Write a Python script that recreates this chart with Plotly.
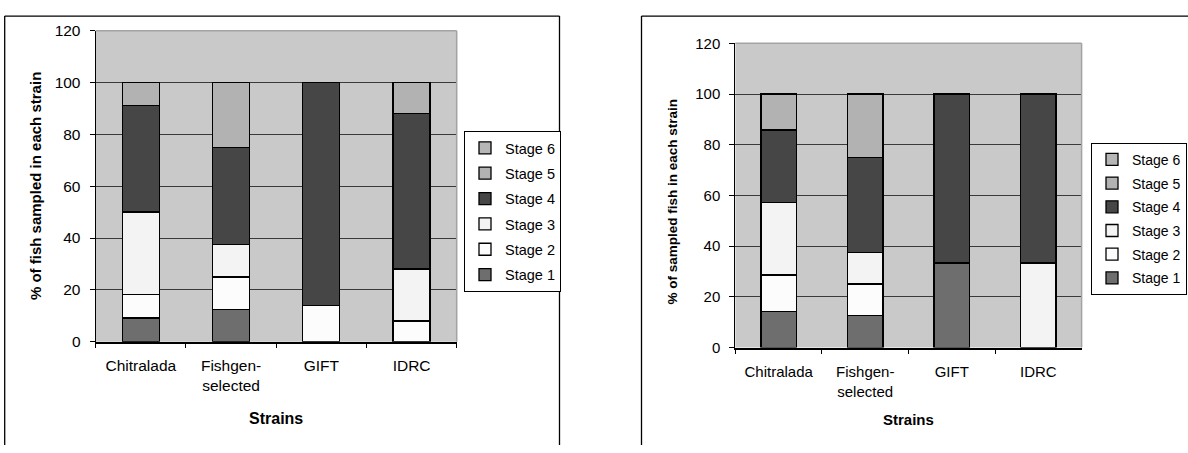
import plotly.graph_objects as go

# ---------------- data ----------------
strains = ["Chitralada", "Fishgen-<br>selected", "GIFT", "IDRC"]
stages = ["Stage 1", "Stage 2", "Stage 3", "Stage 4", "Stage 5", "Stage 6"]
stage_colors = ["#6e6e6e", "#fcfcfc", "#f3f3f3", "#464646", "#b2b2b2", "#b6b6b6"]

# Left chart: % of fish sampled in each strain
left_s1 = [9.1, 12.5, 0, 0]
left_s2 = [9.1, 12.5, 14.0, 8.0]
left_s3 = [31.8, 12.5, 0, 20.0]
left_s4 = [41.0, 37.5, 86.0, 60.0]
left_s5 = [9.0, 25.0, 0, 12.0]
left_s6 = [0, 0, 0, 0]

# Right chart: % of sampled fish in each strain
right_s1 = [14.3, 12.5, 33.3, 0]
right_s2 = [14.3, 12.5, 0, 0]
right_s3 = [28.6, 12.5, 0, 33.3]
right_s4 = [28.6, 37.5, 66.7, 66.7]
right_s5 = [14.2, 25.0, 0, 0]
right_s6 = [0, 0, 0, 0]

left_series = [left_s1, left_s2, left_s3, left_s4, left_s5, left_s6]
right_series = [right_s1, right_s2, right_s3, right_s4, right_s5, right_s6]

y_ticks = [0, 20, 40, 60, 80, 100, 120]

FONT = "Liberation Sans, Arial, sans-serif"
W, H = 1188, 453

fig = go.Figure()

n = len(stages)
for i, (name, vals) in enumerate(zip(stages, left_series)):
    fig.add_trace(go.Bar(
        x=strains, y=vals, name=name, xaxis="x", yaxis="y",
        marker=dict(color=stage_colors[i], line=dict(color="#000000", width=1.3)),
        legend="legend", legendgroup="L" + name, legendrank=n - i,
        hovertemplate="%{x}: %{y}<extra>" + name + "</extra>",
    ))
for i, (name, vals) in enumerate(zip(stages, right_series)):
    fig.add_trace(go.Bar(
        x=strains, y=vals, name=name, xaxis="x2", yaxis="y2",
        marker=dict(color=stage_colors[i], line=dict(color="#000000", width=1.3)),
        legend="legend2", legendgroup="R" + name, legendrank=n - i,
        hovertemplate="%{x}: %{y}<extra>" + name + "</extra>",
    ))

def px_x(p):
    return p / W

def px_y(p):
    return (H - p) / H

xaxis_common = dict(
    type="category", tickson="boundaries", ticks="outside", ticklen=5,
    tickcolor="#000000", showline=True, linecolor="#000000", linewidth=1.5,
    showgrid=False, fixedrange=True,
)
yaxis_common = dict(
    range=[0, 120], tickvals=y_ticks, ticks="outside", ticklen=5,
    tickcolor="#000000", showline=True, linecolor="#000000", linewidth=1.2,
    showgrid=True, gridcolor="#3a3a3a", gridwidth=1, zeroline=False,
    fixedrange=True, ticklabelstandoff=6,
)

fig.update_layout(
    width=W, height=H,
    margin=dict(l=0, r=0, t=0, b=0),
    paper_bgcolor="#ffffff",
    plot_bgcolor="#c9c9c9",
    barmode="stack",
    bargap=0.59,
    showlegend=True,
    font=dict(family=FONT, color="#000000"),
    xaxis=dict(domain=[px_x(95.7), px_x(456.7)], anchor="y", ticklabelstandoff=9,
               tickfont=dict(family=FONT, size=15.5, color="#000000"), **xaxis_common),
    yaxis=dict(domain=[px_y(345.7), px_y(22.5)], anchor="x",
               tickfont=dict(family=FONT, size=15.5, color="#000000"), **yaxis_common),
    xaxis2=dict(domain=[px_x(735.4), px_x(1081.6)], anchor="y2", ticklabelstandoff=10,
                tickfont=dict(family=FONT, size=15, color="#000000"), **xaxis_common),
    yaxis2=dict(domain=[px_y(351.7), px_y(35.7)], anchor="x2",
                tickfont=dict(family=FONT, size=15, color="#000000"), **yaxis_common),
    legend=dict(
        x=px_x(561), xanchor="right", y=px_y(126.7), yanchor="top",
        bgcolor="#ffffff", bordercolor="#000000", borderwidth=1,
        traceorder="grouped", tracegroupgap=3.5,
        font=dict(family=FONT, size=14.5, color="#000000"),
    ),
    legend2=dict(
        x=px_x(1091), xanchor="left", y=px_y(139), yanchor="top",
        bgcolor="#ffffff", bordercolor="#000000", borderwidth=1,
        traceorder="grouped", tracegroupgap=2.5,
        font=dict(family=FONT, size=14, color="#000000"),
    ),
)

# outer chart borders: only the edges visible in the original (kept inside the page)
border = dict(color="#000000", width=1.3)
top_y = px_y(7.3)
for x0, x1, y0, y1 in (
    (px_x(4.7), px_x(4.7), 0, top_y),          # left chart, left edge
    (px_x(4.7), px_x(559.5), top_y, top_y),    # left chart, top edge
    (px_x(559.5), px_x(559.5), 0, top_y),      # left chart, right edge
    (px_x(641.5), px_x(641.5), 0, top_y),      # right chart, left edge
    (px_x(641.5), 1, top_y, top_y),            # right chart, top edge
):
    fig.add_shape(type="line", xref="paper", yref="paper",
                  x0=x0, x1=x1, y0=y0, y1=y1, line=border, layer="below")

# plot-area frame (grey top/right edges)
for xr, yr in (("x domain", "y domain"), ("x2 domain", "y2 domain")):
    fig.add_shape(type="line", xref=xr, yref=yr, x0=0, x1=1, y0=1, y1=1,
                  line=dict(color="#a3a3a3", width=1.5))
    fig.add_shape(type="line", xref=xr, yref=yr, x0=1, x1=1, y0=0, y1=1,
                  line=dict(color="#a3a3a3", width=1.5))

# axis titles
fig.add_annotation(text="<b>% of fish sampled in each strain</b>", xref="paper", yref="paper",
                   x=px_x(35), y=px_y(184), textangle=-90, showarrow=False,
                   xanchor="center", yanchor="middle",
                   font=dict(family=FONT, size=15, color="#000000"))
fig.add_annotation(text="<b>% of sampled fish in each strain</b>", xref="paper", yref="paper",
                   x=px_x(672), y=px_y(200), textangle=-90, showarrow=False,
                   xanchor="center", yanchor="middle",
                   font=dict(family=FONT, size=13.5, color="#000000"))
fig.add_annotation(text="<b>Strains</b>", xref="paper", yref="paper",
                   x=px_x(276.2), y=px_y(425), showarrow=False,
                   xanchor="center", yanchor="middle",
                   font=dict(family=FONT, size=16, color="#000000"))
fig.add_annotation(text="<b>Strains</b>", xref="paper", yref="paper",
                   x=px_x(908.5), y=px_y(427), showarrow=False,
                   xanchor="center", yanchor="middle",
                   font=dict(family=FONT, size=15, color="#000000"))

fig.write_html(
    "out.html",
    config={"displayModeBar": False},
    post_script="document.documentElement.style.overflow='hidden';document.body.style.margin='0';document.body.style.overflow='hidden';",
)
